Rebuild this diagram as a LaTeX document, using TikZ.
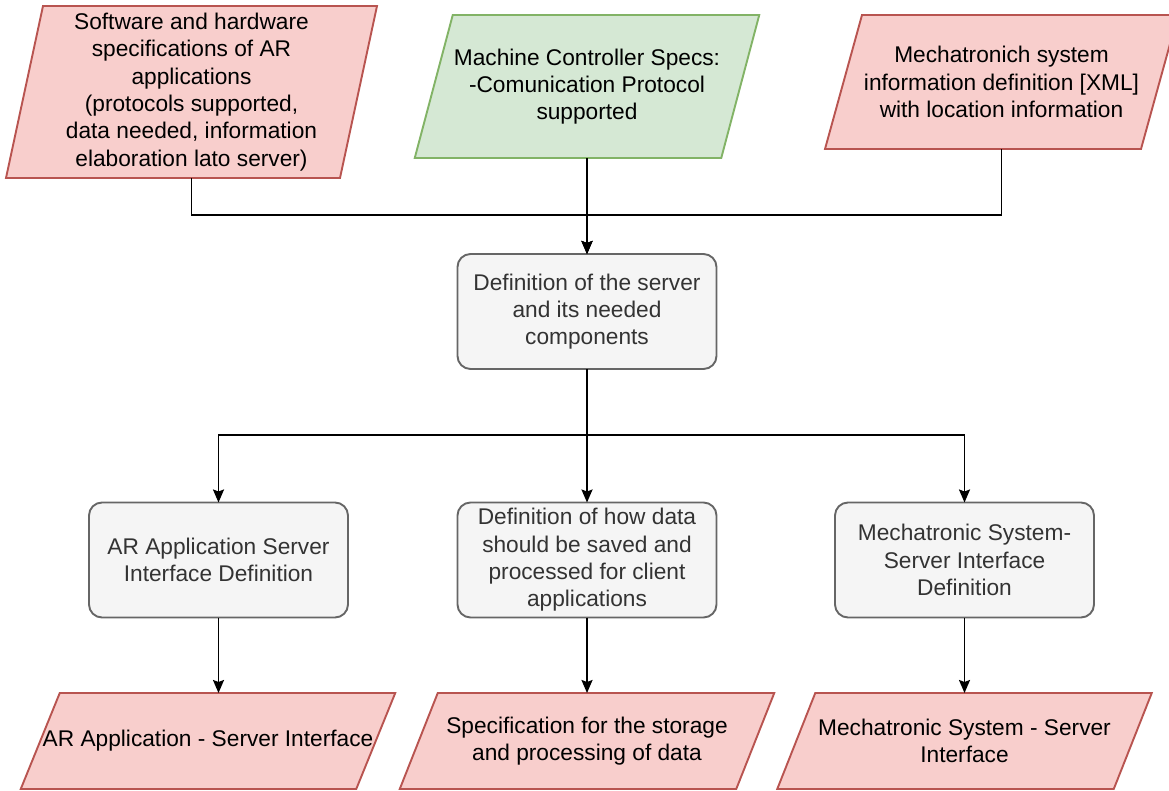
\documentclass[tikz,border=0pt]{standalone}
\usepackage{fontspec}
\setmainfont{Liberation Sans}
\usetikzlibrary{arrows.meta,backgrounds}

\definecolor{pinkfill}{HTML}{F8CECC}
\definecolor{pinkline}{HTML}{B85450}
\definecolor{greenfill}{HTML}{D5E8D4}
\definecolor{greenline}{HTML}{82B366}
\definecolor{grayfill}{HTML}{F5F5F5}
\definecolor{grayline}{HTML}{666666}
\definecolor{graytext}{HTML}{333333}

% slanted data box drawn behind a named text node
\newcommand{\slantbox}[3]{%
  \begin{pgfonlayer}{background}
    \path[#3] ([xshift=#2/2]#1.north west) -- ([xshift=#2/2]#1.north east)
      -- ([xshift=-#2/2]#1.south east) -- ([xshift=-#2/2]#1.south west) -- cycle;
  \end{pgfonlayer}}

\tikzset{
  txt/.style={inner sep=0pt, outer sep=0pt, align=center,
    font=\fontsize{22.7}{27.3}\selectfont},
  databox/.style={txt, rectangle, minimum height=#1},
  redpara/.style={fill=pinkfill, draw=pinkline, line width=1.9pt},
  greenpara/.style={fill=greenfill, draw=greenline, line width=1.9pt},
  stepbox/.style={txt, rectangle, rounded corners=13pt, fill=grayfill,
    draw=grayline, line width=1.9pt, text=graytext,
    minimum width=259pt, minimum height=115pt},
  link/.style={draw=black, line width=1.9pt},
  arr/.style={link, -{Stealth[length=13pt,width=11pt,inset=2pt]}},
}

\begin{document}
\begin{tikzpicture}[x=1pt, y=-1pt]
\useasboundingbox (0,0) rectangle (1169,790);

% inputs
\node[databox=172pt, minimum width=334pt] (in1) at (191.5,92)
  {Software and hardware\\specifications of AR\\applications\\(protocols supported,\\data needed, information\\elaboration lato server)};
\slantbox{in1}{37}{redpara}

\node[databox=143pt, minimum width=306.5pt] (in2) at (587,86.5)
  {Machine Controller Specs:\\-Comunication Protocol\\supported};
\slantbox{in2}{38}{greenpara}

\node[databox=134pt, minimum width=316pt] (in3) at (1001.5,82)
  {Mechatronich system\\information definition [XML]\\with location information};
\slantbox{in3}{37}{redpara}

% central step
\node[stepbox] (srv) at (587,311.5)
  {Definition of the server\\and its needed\\components};

% second level steps
\node[stepbox] (s1) at (218.5,560) {AR Application Server\\Interface Definition};
\node[stepbox] (s2) at (587,560)
  {Definition of how data\\should be saved and\\processed for client\\applications};
\node[stepbox] (s3) at (964.5,560)
  {Mechatronic System-\\Server Interface\\Definition};

% outputs
\node[databox=96pt, minimum width=335.5pt] (o1) at (208,741)
  {AR Application - Server Interface};
\slantbox{o1}{39}{redpara}

\node[databox=96pt, minimum width=336.5pt] (o2) at (587,741)
  {Specification for the storage\\and processing of data};
\slantbox{o2}{38}{redpara}

\node[databox=96pt, minimum width=336.5pt] (o3) at (964.5,741)
  {Mechatronic System - Server\\Interface};
\slantbox{o3}{38}{redpara}

% connectors into the server definition
\coordinate (jin) at (587,215);
\draw[arr] (in1.south) -- (in1.south |- jin) -- (jin) -- (srv.north);
\draw[arr] (in3.south) -- (in3.south |- jin) -- (jin) -- (srv.north);
\draw[arr] (in2.south) -- (srv.north);

% connectors out of the server definition
\coordinate (jout) at (587,435);
\draw[arr] (srv.south) -- (jout) -- (jout -| s1.north) -- (s1.north);
\draw[arr] (srv.south) -- (s2.north);
\draw[arr] (srv.south) -- (jout) -- (jout -| s3.north) -- (s3.north);

% connectors to the outputs
\draw[arr] (s1.south) -- (s1.south |- o1.north);
\draw[arr] (s2.south) -- (o2.north);
\draw[arr] (s3.south) -- (o3.north);
\end{tikzpicture}
\end{document}
